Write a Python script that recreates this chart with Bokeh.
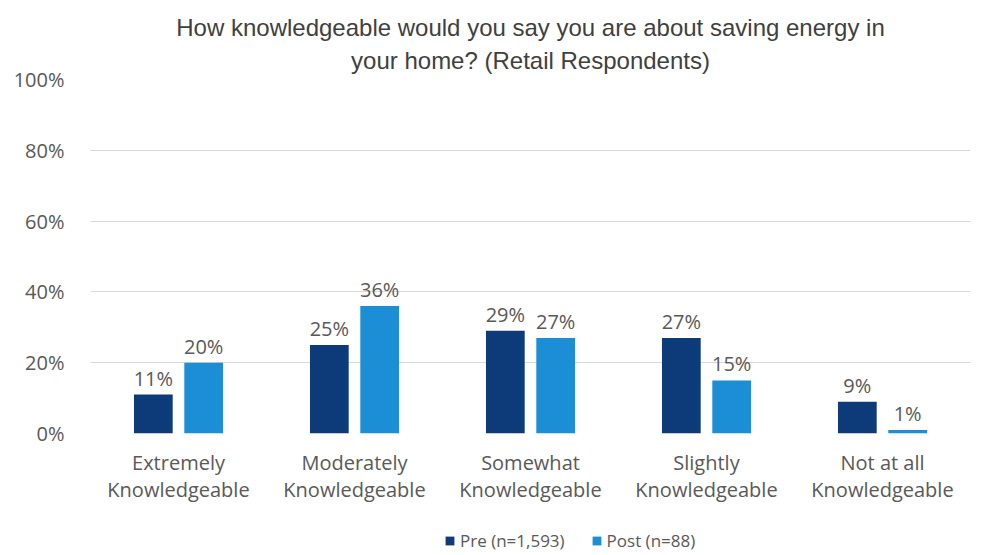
from bokeh.plotting import figure
from bokeh.layouts import column
from bokeh.models import (ColumnDataSource, FactorRange, Range1d, FixedTicker, PrintfTickFormatter,
                          LabelSet, Legend, LegendItem, Title)
from bokeh.core.properties import value
from bokeh.transform import dodge
from bokeh.embed import file_html
from bokeh.resources import INLINE

categories = ["Extremely\nKnowledgeable", "Moderately\nKnowledgeable", "Somewhat\nKnowledgeable",
              "Slightly\nKnowledgeable", "Not at all\nKnowledgeable"]
pre = [11, 25, 29, 27, 9]
post = [20, 36, 27, 15, 1]
pre_name = "Pre (n=1,593)"
post_name = "Post (n=88)"
title_lines = ["How knowledgeable would you say you are about saving energy in",
               "your home? (Retail Respondents)"]

src = ColumnDataSource(dict(cat=categories, pre=pre, post=post,
                            pre_lbl=[f"{v}%" for v in pre], post_lbl=[f"{v}%" for v in post]))

FONT = "Open Sans"
TFONT = "Liberation Sans"
GRAY = "#595959"
PRE_C = "#0d3a78"
POST_C = "#1b8ed6"
W = 972

p = figure(width=W, height=505, x_range=FactorRange(*categories), y_range=Range1d(0, 100),
           output_backend="svg", toolbar_location=None,
           min_border_left=90, min_border_right=2, min_border_top=79, min_border_bottom=71)
p.outline_line_color = None
p.background_fill_color = "white"

for i, line in enumerate(reversed(title_lines)):
    p.add_layout(Title(text=line, align="center", text_font=TFONT, text_font_size="24px",
                       text_font_style="normal", text_color="#404040",
                       standoff=12 if i == 0 else -5, offset=0), "above")

p.vbar(x=dodge("cat", -0.143, range=p.x_range), top="pre", width=0.22, source=src,
       color=PRE_C, line_color=None)
p.vbar(x=dodge("cat", 0.143, range=p.x_range), top="post", width=0.22, source=src,
       color=POST_C, line_color=None)

for col, off in (("pre", -0.143), ("post", 0.143)):
    p.add_layout(LabelSet(x=dodge("cat", off, range=p.x_range), y=col, text=col + "_lbl", source=src,
                          text_align="center", text_baseline="bottom", y_offset=3,
                          text_font_size="20px", text_color=GRAY, text_font=value(FONT)))

p.yaxis.ticker = FixedTicker(ticks=[0, 20, 40, 60, 80, 100])
p.yaxis.formatter = PrintfTickFormatter(format="%d%%")
for ax in (p.xaxis, p.yaxis):
    ax.axis_line_color = None
    ax.major_tick_line_color = None
    ax.minor_tick_line_color = None
    ax.major_label_text_font = FONT
    ax.major_label_text_font_size = "20px"
    ax.major_label_text_color = GRAY
p.xaxis.major_label_text_line_height = 1.0
p.yaxis.major_label_standoff = 20
p.xaxis.major_label_standoff = 9
p.xgrid.grid_line_color = None
p.ygrid.grid_line_color = "#d9d9d9"
p.ygrid.grid_line_width = 1

# legend strip below the chart
p2 = figure(width=W, height=48, x_range=Range1d(0, 1), y_range=Range1d(0, 1),
            output_backend="svg", toolbar_location=None,
            min_border_left=90, min_border_right=2, min_border_top=0, min_border_bottom=0)
p2.axis.visible = False
p2.grid.grid_line_color = None
p2.outline_line_color = None
l1 = p2.vbar(x=[-10], top=[-10], width=0.1, color=PRE_C, line_color=None)
l2 = p2.vbar(x=[-10], top=[-10], width=0.1, color=POST_C, line_color=None)
legend = Legend(items=[LegendItem(label=pre_name, renderers=[l1]),
                       LegendItem(label=post_name, renderers=[l2])],
                orientation="horizontal", location=(354, 1),
                label_text_font=FONT, label_text_font_size="17px", label_text_color=GRAY,
                glyph_width=11, glyph_height=11, spacing=26, label_standoff=5,
                border_line_color=None, background_fill_alpha=0, padding=0, margin=0)
p2.add_layout(legend, "center")

layout = column(p, p2, spacing=0)
open("out.html", "w").write(file_html(layout, INLINE))
